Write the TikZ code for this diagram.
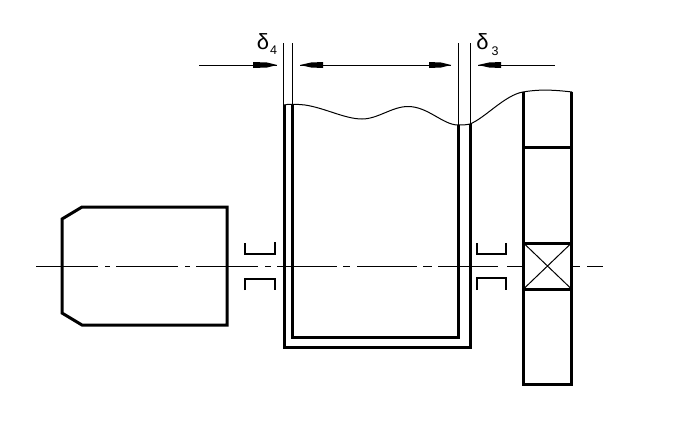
\documentclass[tikz,border=0pt]{standalone}
\usepackage{fontspec}
\setmainfont{Liberation Sans}
\begin{document}
\begin{tikzpicture}[x=1pt,y=-1pt,
  heavy/.style={line width=3pt,line join=miter,line cap=rect},
  medium/.style={line width=2pt,line join=miter},
  thin line/.style={line width=1pt},
  tip/.style={fill=black,draw=none},
  sym/.style={inner sep=0pt,font=\fontsize{22}{22}\selectfont},
  sub/.style={inner sep=0pt,font=\fontsize{12.5}{13}\selectfont}]
\useasboundingbox (0,0) rectangle (675,447);
\fill[white] (0,0) rectangle (675,447);
% centre line
\draw[thin line] (36,266)--(98,266) (105,266)--(110,266) (116,266)--(178,266) (185,266)--(190,266) (196,266)--(258,266) (265,266)--(271,266) (277,266)--(337,266) (343,266)--(350,266) (357,266)--(417,266) (423,266)--(432,266) (438,266)--(498,266) (507,266)--(522,266) (573,266)--(580,266) (587,266)--(603,266);
% motor
\draw[heavy] (62,219)--(82,207)--(227,207)--(227,325)--(82,325)--(62,313)--cycle;
% seals
\draw[medium] (245,243)--(245,254)--(275,254)--(275,242);
\draw[medium] (245,290)--(245,279)--(275,279)--(275,290);
\draw[medium] (477,243)--(477,254)--(506,254)--(506,243);
\draw[medium] (477,290)--(477,278)--(506,278)--(506,290);
% cup
\draw[heavy,line cap=butt] (284,105)--(284,347)--(470.5,347)--(470.5,124);
\draw[heavy,line cap=butt] (292.5,105)--(292.5,337)--(458.5,337)--(458.5,125);
% gear
\draw[heavy,line cap=butt] (523.5,92)--(523.5,384)--(571.5,384)--(571.5,92);
\draw[heavy,line cap=butt] (523.5,147)--(571.5,147) (523.5,243)--(571.5,243) (523.5,289)--(571.5,289);
\draw[thin line] (523.5,243)--(571.5,289) (571.5,243)--(523.5,289);
% wavy break line
\draw[thin line] (284,105) .. controls (288,104) and (295,104) .. (305,105)
  .. controls (325,108) and (345,119) .. (362,119)
  .. controls (378,119) and (392,106.5) .. (408,106.5)
  .. controls (428,106.5) and (443,125) .. (458,125)
  .. controls (462,125) and (466,125) .. (470,124)
  .. controls (485,118) and (505,95) .. (523,92)
  .. controls (540,89) and (555,90) .. (572,92);
% extension lines
\draw[thin line] (283.5,43)--(283.5,105) (292,43)--(292,105) (458,43)--(458,125) (470,43)--(470,125);
% dimension line
\draw[thin line] (199,65)--(277,65) (300,65)--(451,65) (478,65)--(555,65);
\fill[tip] (253,62)--(267,62.5)--(277,65)--(267,67.5)--(253,68)--cycle;
\fill[tip] (323,62)--(311,62.5)--(300,65)--(311,67.5)--(323,68)--cycle;
\fill[tip] (429,62)--(441,62.5)--(451,65)--(441,67.5)--(429,68)--cycle;
\fill[tip] (501,62)--(489,62.5)--(478,65)--(489,67.5)--(501,68)--cycle;
% labels
\node[sym] (d4) at (263,42) {δ};
\node[sub] (s4) at (273.5,50.5) {4};
\node[sym] (d3) at (482.5,42) {δ};
\node[sub] (s3) at (495,51.5) {3};
\end{tikzpicture}
\end{document}
